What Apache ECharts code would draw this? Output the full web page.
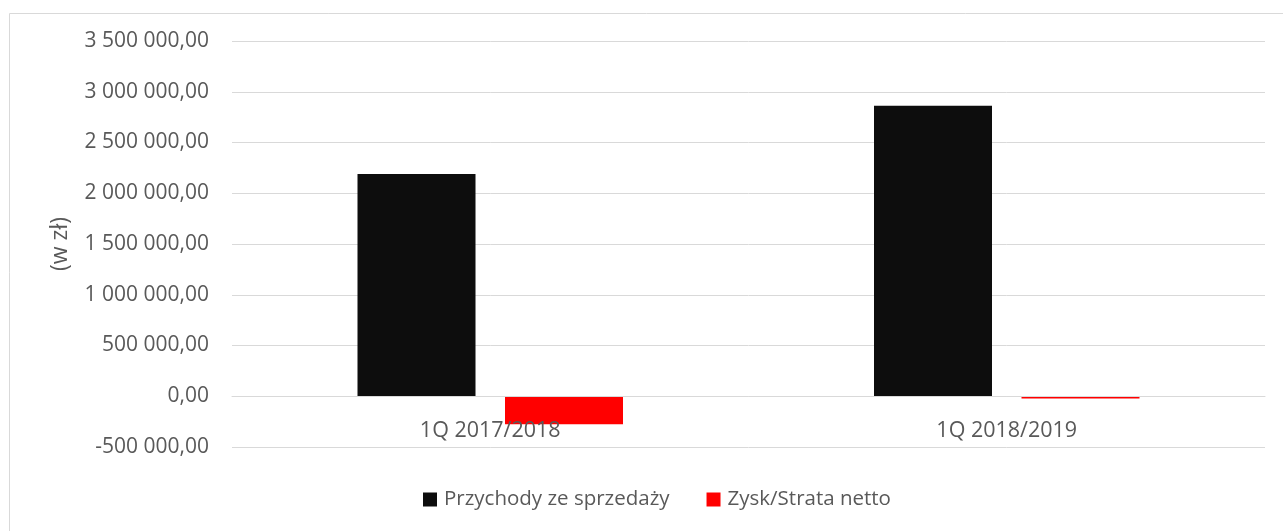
<!DOCTYPE html>
<html lang="pl">
<head>
	<meta charset="UTF-8">
	<title>Przychody i zysk</title>
	<script src="https://cdn.jsdelivr.net/npm/echarts@6/dist/echarts.min.js"></script>
	<style>
		html, body { margin: 0; padding: 0; background: #fff; }
		#chart { width: 1283px; height: 531px; }
	</style>
</head>
<body>
	<div id="chart"></div>
	<script type="text/javascript">
		// dane
		var categories = ['1Q 2017/2018', '1Q 2018/2019'];
		var przychody = [2190000, 2863000];
		var zysk = [-276000, -22000];
		var seriesNames = ['Przychody ze sprzedaży', 'Zysk/Strata netto'];

		var textColor = '#595959';
		var gridColor = '#d9d9d9';
		var font = '"Open Sans", "Noto Sans", sans-serif';

		// 1500000 -> "1 500 000,00"
		function fmt(v) {
			var neg = v < 0;
			var s = Math.abs(Math.round(v)) + '';
			s = s.replace(/\B(?=(\d{3})+(?!\d))/g, ' ');
			return (neg ? '-' : '') + s + ',00';
		}

		var myChart = echarts.init(document.getElementById('chart'));

		var option = {
			animation: false,
			color: ['#0d0d0d', '#ff0000'],
			graphic: [{
				type: 'rect',
				shape: { x: 9.5, y: 13.5, width: 1290, height: 530 },
				style: { fill: 'none', stroke: gridColor, lineWidth: 1 },
				silent: true
			}],
			grid: {
				left: 232,
				right: 18,
				top: 41,
				bottom: 84
			},
			legend: {
				data: seriesNames,
				top: 484,
				left: 418,
				itemWidth: 14,
				itemHeight: 14,
				itemGap: 37,
				icon: 'rect',
				textStyle: { color: textColor, fontSize: 20.5, fontFamily: font, padding: [0, 0, 0, 2] }
			},
			xAxis: {
				type: 'category',
				data: categories,
				// os kategorii lezy na zerze (jeden odstep siatki nad dolem)
				offset: -50.75,
				z: 5,
				axisTick: { show: false },
				axisLine: { onZero: false, lineStyle: { color: gridColor, width: 1 } },
				axisLabel: { color: textColor, fontSize: 21.5, fontFamily: font, margin: 24 }
			},
			yAxis: {
				type: 'value',
				min: -500000,
				max: 3500000,
				interval: 500000,
				name: '(w zł)',
				nameLocation: 'middle',
				nameGap: 160,
				nameTextStyle: { color: textColor, fontSize: 23, fontFamily: font },
				axisLine: { show: false },
				axisTick: { show: false },
				splitLine: { lineStyle: { color: gridColor, width: 1 } },
				axisLabel: {
					color: textColor,
					fontSize: 21,
					fontFamily: font,
					margin: 23,
					formatter: fmt
				}
			},
			series: [{
				name: seriesNames[0],
				type: 'bar',
				barWidth: 118,
				barGap: '25%',
				data: przychody
			}, {
				name: seriesNames[1],
				type: 'bar',
				barWidth: 118,
				barGap: '25%',
				data: zysk
			}]
		};

		myChart.setOption(option);
	</script>
</body>
</html>
